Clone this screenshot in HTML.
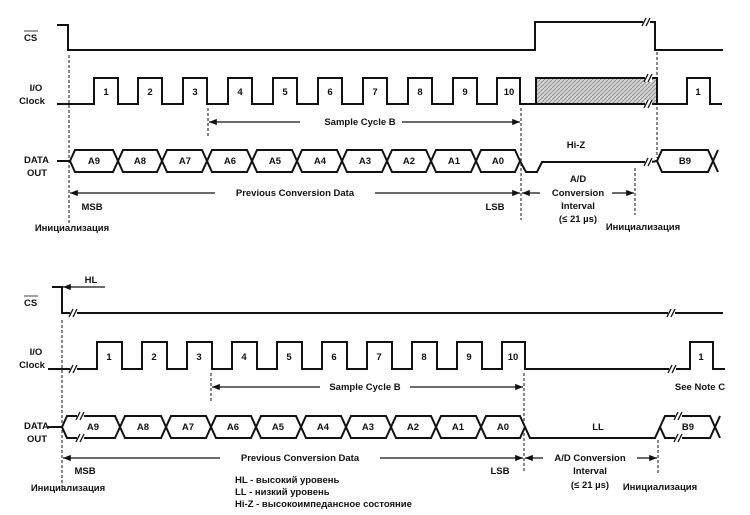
<!DOCTYPE html>
<html><head><meta charset="utf-8"><style>
html,body{margin:0;padding:0;background:#fff;}
svg{display:block;}
text{font-family:"Liberation Sans",Arial,sans-serif;font-size:9.5px;fill:#111;font-weight:bold;}
</style></head><body>
<svg width="750" height="515" viewBox="0 0 750 515" xmlns="http://www.w3.org/2000/svg">
<defs>
<pattern id="sh" width="4" height="4" patternUnits="userSpaceOnUse"><rect width="4" height="4" fill="#d4d4d4"/><path d="M0 4L4 0" stroke="#888" stroke-width="0.8"/></pattern>
<marker id="al" viewBox="0 0 10 10" refX="10" refY="5" markerWidth="9" markerHeight="6" orient="auto-start-reverse"><path d="M10 5L0 1V9Z" fill="#111"/></marker>
</defs>
<g fill="none" stroke="#111" stroke-width="2">
<polyline points="57,25 68,25 68,50 535,50 535,22 655,22 655,50 723,50"/>
<polyline points="57,104 94,104 94,78 118,78 118,104 138,104 138,78 162,78 162,104 183,104 183,78 207,78 207,104 228,104 228,78 252,78 252,104 273,104 273,78 297,78 297,104 318,104 318,78 342,78 342,104 363,104 363,78 387,78 387,104 408,104 408,78 432,78 432,104 453,104 453,78 477,78 477,104 497,104 497,78 520,78 520,104 536,104"/>
<rect x="536" y="78" width="121" height="26" fill="url(#sh)"/>
<polyline points="657,104 687,104 687,78 710,78 710,104 722,104"/>
<line x1="57" y1="161" x2="70" y2="161"/>
<polygon points="70,161 75,150 113,150 118,161 113,172 75,172"/>
<polygon points="118,161 123,150 157,150 162,161 157,172 123,172"/>
<polygon points="162,161 167,150 202,150 207,161 202,172 167,172"/>
<polygon points="207,161 212,150 247,150 252,161 247,172 212,172"/>
<polygon points="252,161 257,150 292,150 297,161 292,172 257,172"/>
<polygon points="297,161 302,150 337,150 342,161 337,172 302,172"/>
<polygon points="342,161 347,150 382,150 387,161 382,172 347,172"/>
<polygon points="387,161 392,150 426,150 431,161 426,172 392,172"/>
<polygon points="431,161 436,150 471,150 476,161 471,172 436,172"/>
<polygon points="476,161 481,150 515,150 520,161 515,172 481,172"/>
<polyline points="520,161 526,172 537,172 542,162 651,162 657,161"/>
<polygon points="657,161 662,150 708,150 713,161 708,172 662,172"/>
<polyline points="713,161 718,150"/><polyline points="713,161 718,172"/>
<polyline points="52,287 62,287 62,313 723,313"/>
<polyline points="48,369 97,369 97,342 122,342 122,369 142,369 142,342 167,342 167,369 187,369 187,342 212,342 212,369 232,369 232,342 257,342 257,369 277,369 277,342 302,342 302,369 322,369 322,342 347,342 347,369 367,369 367,342 392,342 392,369 412,369 412,342 437,342 437,369 457,369 457,342 482,342 482,369 502,369 502,342 525,342 525,369 690,369 690,342 713,342 713,369 725,369"/>
<line x1="48" y1="427" x2="62" y2="427"/>
<polygon points="62,427 67,416 115,416 120,427 115,438 67,438"/>
<polygon points="120,427 125,416 161,416 166,427 161,438 125,438"/>
<polygon points="166,427 171,416 206,416 211,427 206,438 171,438"/>
<polygon points="211,427 216,416 251,416 256,427 251,438 216,438"/>
<polygon points="256,427 261,416 296,416 301,427 296,438 261,438"/>
<polygon points="301,427 306,416 341,416 346,427 341,438 306,438"/>
<polygon points="346,427 351,416 386,416 391,427 386,438 351,438"/>
<polygon points="391,427 396,416 431,416 436,427 431,438 396,438"/>
<polygon points="436,427 441,416 476,416 481,427 476,438 441,438"/>
<polygon points="481,427 486,416 520,416 525,427 520,438 486,438"/>
<polyline points="525,427 530,438 655,438 660,427"/>
<polygon points="660,427 665,416 710,416 715,427 710,438 665,438"/>
<polyline points="715,427 720,416"/><polyline points="715,427 720,438"/>
</g>
<g stroke="#111" stroke-width="1.3">
<rect x="643" y="18" width="7" height="8" fill="#fff" stroke="none"/><line x1="642" y1="26" x2="646" y2="18"/><line x1="646" y1="26" x2="650" y2="18"/>
<rect x="645" y="74" width="7" height="8" fill="#fff" stroke="none"/><line x1="644" y1="82" x2="648" y2="74"/><line x1="648" y1="82" x2="652" y2="74"/>
<rect x="645" y="100" width="7" height="8" fill="#fff" stroke="none"/><line x1="644" y1="108" x2="648" y2="100"/><line x1="648" y1="108" x2="652" y2="100"/>
<rect x="645" y="158" width="7" height="8" fill="#fff" stroke="none"/><line x1="644" y1="166" x2="648" y2="158"/><line x1="648" y1="166" x2="652" y2="158"/>
<rect x="70" y="309" width="7" height="8" fill="#fff" stroke="none"/><line x1="69" y1="317" x2="73" y2="309"/><line x1="73" y1="317" x2="77" y2="309"/>
<rect x="668" y="309" width="7" height="8" fill="#fff" stroke="none"/><line x1="667" y1="317" x2="671" y2="309"/><line x1="671" y1="317" x2="675" y2="309"/>
<rect x="70" y="365" width="7" height="8" fill="#fff" stroke="none"/><line x1="69" y1="373" x2="73" y2="365"/><line x1="73" y1="373" x2="77" y2="365"/>
<rect x="669" y="365" width="7" height="8" fill="#fff" stroke="none"/><line x1="668" y1="373" x2="672" y2="365"/><line x1="672" y1="373" x2="676" y2="365"/>
<rect x="77" y="412" width="7" height="8" fill="#fff" stroke="none"/><line x1="76" y1="420" x2="80" y2="412"/><line x1="80" y1="420" x2="84" y2="412"/>
<rect x="77" y="434" width="7" height="8" fill="#fff" stroke="none"/><line x1="76" y1="442" x2="80" y2="434"/><line x1="80" y1="442" x2="84" y2="434"/>
<rect x="675" y="412" width="7" height="8" fill="#fff" stroke="none"/><line x1="674" y1="420" x2="678" y2="412"/><line x1="678" y1="420" x2="682" y2="412"/>
<rect x="675" y="434" width="7" height="8" fill="#fff" stroke="none"/><line x1="674" y1="442" x2="678" y2="434"/><line x1="678" y1="442" x2="682" y2="434"/>
</g>
<g stroke="#111" stroke-width="1" stroke-dasharray="3,2">
<line x1="69" y1="55" x2="69" y2="225"/>
<line x1="208" y1="108" x2="208" y2="138"/>
<line x1="521" y1="108" x2="521" y2="220"/>
<line x1="635" y1="168" x2="635" y2="215"/>
<line x1="657" y1="52" x2="657" y2="158"/>
<line x1="62" y1="320" x2="62" y2="490"/>
<line x1="211" y1="373" x2="211" y2="403"/>
<line x1="524" y1="373" x2="524" y2="472"/>
<line x1="658" y1="440" x2="658" y2="475"/>
</g>
<g stroke="#111" stroke-width="1.3" fill="none">
<line x1="209" y1="122" x2="300" y2="122" marker-start="url(#al)"/>
<line x1="402" y1="122" x2="520" y2="122" marker-end="url(#al)"/>
<line x1="70" y1="193" x2="215" y2="193" marker-start="url(#al)"/>
<line x1="375" y1="193" x2="520" y2="193" marker-end="url(#al)"/>
<line x1="522" y1="193" x2="540" y2="193" marker-start="url(#al)"/>
<line x1="612" y1="193" x2="634" y2="193" marker-end="url(#al)"/>
<line x1="63" y1="287" x2="105" y2="287" marker-start="url(#al)"/>
<line x1="212" y1="387" x2="320" y2="387" marker-start="url(#al)"/>
<line x1="410" y1="387" x2="523" y2="387" marker-end="url(#al)"/>
<line x1="63" y1="458" x2="220" y2="458" marker-start="url(#al)"/>
<line x1="380" y1="458" x2="523" y2="458" marker-end="url(#al)"/>
<line x1="525" y1="458" x2="543" y2="458" marker-start="url(#al)"/>
<line x1="637" y1="458" x2="657" y2="458" marker-end="url(#al)"/>
</g>
<text x="24" y="41">CS</text><line x1="24" y1="31" x2="38" y2="31" stroke="#111" stroke-width="0.8"/>
<text x="36" y="91" text-anchor="middle">I/O</text><text x="32" y="104" text-anchor="middle">Clock</text>
<text x="24" y="163">DATA</text><text x="27" y="176">OUT</text>
<text x="24" y="306">CS</text><line x1="24" y1="296" x2="38" y2="296" stroke="#111" stroke-width="0.8"/>
<text x="36" y="355" text-anchor="middle">I/O</text><text x="32" y="368" text-anchor="middle">Clock</text>
<text x="24" y="429">DATA</text><text x="27" y="442">OUT</text>
<g text-anchor="middle">
<text x="106" y="95">1</text><text x="150" y="95">2</text><text x="195" y="95">3</text><text x="240" y="95">4</text><text x="285" y="95">5</text><text x="330" y="95">6</text><text x="375" y="95">7</text><text x="420" y="95">8</text><text x="465" y="95">9</text><text x="509" y="95">10</text><text x="698" y="95">1</text>
<text x="94" y="164">A9</text><text x="140" y="164">A8</text><text x="185" y="164">A7</text><text x="230" y="164">A6</text><text x="275" y="164">A5</text><text x="320" y="164">A4</text><text x="365" y="164">A3</text><text x="409" y="164">A2</text><text x="454" y="164">A1</text><text x="498" y="164">A0</text><text x="685" y="164">B9</text>
<text x="576" y="148">Hi-Z</text>
<text x="360" y="125">Sample Cycle B</text>
<text x="295" y="196">Previous Conversion Data</text>
<text x="578" y="182">A/D</text><text x="578" y="196">Conversion</text><text x="578" y="209">Interval</text><text x="578" y="222">(≤ 21 µs)</text>
<text x="92" y="210">MSB</text><text x="495" y="210">LSB</text>
<text x="72" y="231">Инициализация</text><text x="643" y="230">Инициализация</text>
<text x="109" y="360">1</text><text x="154" y="360">2</text><text x="199" y="360">3</text><text x="244" y="360">4</text><text x="289" y="360">5</text><text x="334" y="360">6</text><text x="379" y="360">7</text><text x="424" y="360">8</text><text x="469" y="360">9</text><text x="513" y="360">10</text><text x="701" y="360">1</text>
<text x="93" y="430">A9</text><text x="143" y="430">A8</text><text x="188" y="430">A7</text><text x="233" y="430">A6</text><text x="278" y="430">A5</text><text x="323" y="430">A4</text><text x="368" y="430">A3</text><text x="413" y="430">A2</text><text x="458" y="430">A1</text><text x="503" y="430">A0</text><text x="688" y="430">B9</text>
<text x="598" y="430">LL</text>
<text x="365" y="390">Sample Cycle B</text>
<text x="700" y="390">See Note C</text>
<text x="91" y="283">HL</text>
<text x="300" y="461">Previous Conversion Data</text>
<text x="590" y="461">A/D Conversion</text><text x="590" y="474">Interval</text><text x="590" y="488">(≤ 21 µs)</text>
<text x="85" y="474">MSB</text><text x="500" y="474">LSB</text>
<text x="68" y="491">Инициализация</text><text x="660" y="490">Инициализация</text>
</g>
<text x="235" y="483">HL - высокий уровень</text>
<text x="235" y="495">LL - низкий уровень</text>
<text x="235" y="507">Hi-Z - высокоимпедансное состояние</text>
</svg>
</body></html>
